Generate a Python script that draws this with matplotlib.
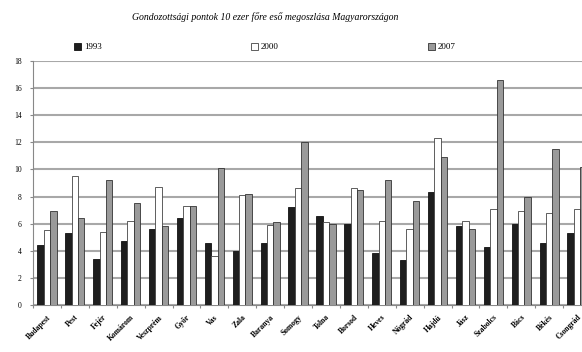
import matplotlib
matplotlib.use("Agg")
import matplotlib.pyplot as plt
import numpy as np
from matplotlib.patches import Patch

counties = ["Budapest", "Pest", "Fejér", "Komárom", "Veszprém", "Győr", "Vas", "Zala",
            "Baranya", "Somogy", "Tolna", "Borsod", "Heves", "Nógrád", "Hajdú", "Jász",
            "Szabolcs", "Bács", "Békés", "Csongrád"]
v1993 = [4.4, 5.3, 3.4, 4.7, 5.6, 6.4, 4.6, 4.0, 4.6, 7.2, 6.6, 6.0, 3.8, 3.3, 8.3, 5.8,
         4.3, 6.0, 4.6, 5.3]
v2000 = [5.5, 9.5, 5.4, 6.2, 8.7, 7.3, 3.6, 8.1, 5.9, 8.6, 6.1, 8.6, 6.2, 5.6, 12.3, 6.2,
         7.1, 6.9, 6.8, 7.1]
v2007 = [6.9, 6.4, 9.2, 7.5, 5.8, 7.3, 10.1, 8.2, 6.1, 12.0, 6.0, 8.5, 9.2, 7.7, 10.9, 5.6,
         16.6, 8.0, 11.5, 10.2]
years = ["1993", "2000", "2007"]
yticks = list(range(0, 19, 2))
title = "Gondozottsági pontok 10 ezer főre eső megoszlása Magyarországon"

plt.rcParams['font.family'] = ['Liberation Serif', 'DejaVu Serif']

fig = plt.figure(figsize=(5.82, 3.52), dpi=100)
ax = fig.add_axes([33/582, 47/352, 558/582, 244/352])

x = np.arange(len(counties))
w = 0.23
colors = ["#1e1e1e", "#ffffff", "#9a9a9a"]
edges = ["#111111", "#444444", "#333333"]
for i, (vals, c, e) in enumerate(zip([v1993, v2000, v2007], colors, edges)):
    ax.bar(x + (i - 1) * w, vals, width=w, color=c, edgecolor=e, linewidth=0.6, zorder=3)

ax.set_xlim(-0.5, len(counties) - 0.5)
ax.set_ylim(0, 18)
ax.set_yticks(yticks)
ax.set_yticklabels([str(t) for t in yticks], fontsize=5.5)
ax.yaxis.grid(True, color="#a8a8a8", linewidth=1.5, zorder=0)
ax.set_axisbelow(True)

ax.set_xticks(np.arange(len(counties) + 1) - 0.5)
ax.set_xticklabels([])
ax.set_xticks(x, minor=True)
ax.set_xticklabels(counties, minor=True, rotation=45, ha='right', va='top',
                   rotation_mode='anchor', fontsize=5.5, fontweight='bold')
ax.tick_params(axis='x', which='minor', length=0, pad=6)
ax.tick_params(axis='x', which='major', length=2, color="#888888")
ax.tick_params(axis='y', length=2, color="#888888", pad=6)

for s in ["top", "right"]:
    ax.spines[s].set_visible(False)
for s in ["left", "bottom"]:
    ax.spines[s].set_color("#888888")
    ax.spines[s].set_linewidth(0.8)

fig.text(0.455, 1 - 17/352, title, ha='center', va='center', fontsize=7, style='italic')

handles = [Patch(facecolor=c, edgecolor=e, linewidth=0.6) for c, e in zip(colors, edges)]
fig.legend(handles, years, loc='center', bbox_to_anchor=(0.455, 1 - 47/352), ncol=3,
           frameon=False, fontsize=6.5, columnspacing=16.5, handlelength=0.8, handleheight=0.8,
           handletextpad=0.3)

fig.savefig("out.png", dpi=100)
